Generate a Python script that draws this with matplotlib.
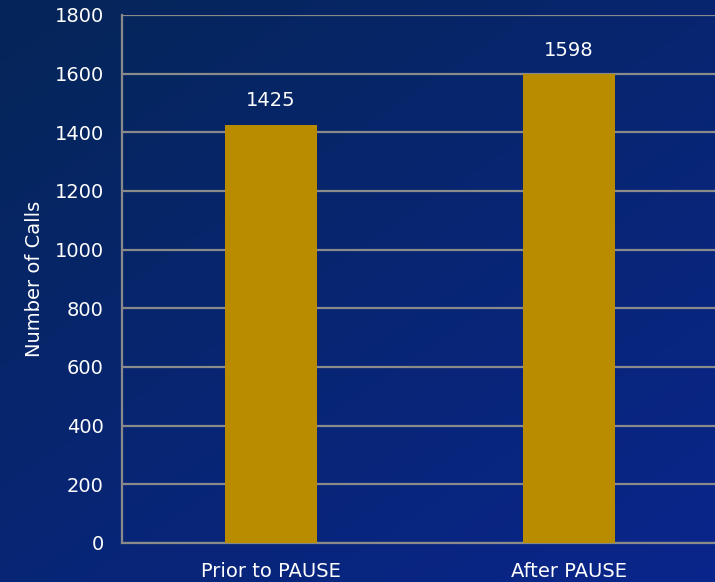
import matplotlib
matplotlib.use('Agg')
import matplotlib.pyplot as plt
import numpy as np

# Data
categories = ['Prior to PAUSE', 'After PAUSE']
calls = [1425, 1598]
y_ticks = [0, 200, 400, 600, 800, 1000, 1200, 1400, 1600, 1800]

plt.rcParams['font.family'] = ['DejaVu Sans']

fig = plt.figure(figsize=(7.15, 5.82), dpi=100)

# Background gradient (dark navy top-left -> brighter blue bottom-right)
bg = fig.add_axes([0, 0, 1, 1], zorder=0)
yy, xx = np.mgrid[0:1:200j, 0:1:200j]
t = np.clip(0.55 * yy + 0.45 * xx, 0, 1)
top = np.array([5, 37, 88]) / 255
bottom = np.array([10, 38, 140]) / 255
img = top[None, None, :] * (1 - t[..., None]) + bottom[None, None, :] * t[..., None]
bg.imshow(img, aspect='auto', extent=[0, 1, 0, 1], origin='upper')
bg.axis('off')

ax = fig.add_axes([122 / 715, 1 - 543 / 582, 596 / 715, 528 / 582], zorder=1)
ax.patch.set_alpha(0)

x = np.arange(len(categories))
bars = ax.bar(x, calls, width=0.31, color='#B98C00', zorder=3)

for bar, v in zip(bars, calls):
    ax.text(bar.get_x() + bar.get_width() / 2, v + 50, f'{v}',
            ha='center', va='bottom', color='white', fontsize=14)

ax.set_xlim(-0.5, 1.5)
ax.set_ylim(0, 1800)
ax.set_yticks(y_ticks)
ax.set_xticks(x)
ax.set_xticklabels(categories)
ax.tick_params(axis='both', length=0, colors='white', labelsize=14)
ax.tick_params(axis='y', pad=13)
ax.tick_params(axis='x', pad=14)
ax.grid(axis='y', color='#8a8a8a', linewidth=1.6, zorder=0)
ax.set_axisbelow(True)
for side in ['top', 'right']:
    ax.spines[side].set_visible(False)
for side in ['left', 'bottom']:
    ax.spines[side].set_color('#8a8a8a')
    ax.spines[side].set_linewidth(1.6)
ax.set_ylabel('Number of Calls', color='white', fontsize=14, labelpad=8)

fig.savefig('out.png', dpi=100)
